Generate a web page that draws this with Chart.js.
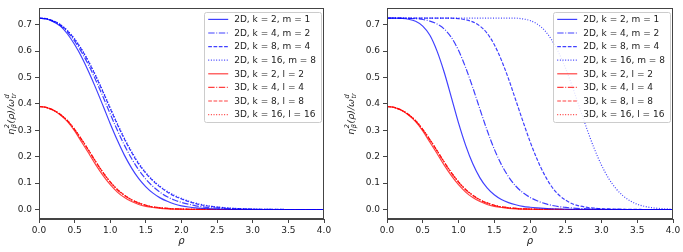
<!DOCTYPE html>
<html>
<head>
<meta charset="utf-8">
<script src="https://cdn.jsdelivr.net/npm/chart.js@4.4.0/dist/chart.umd.min.js"></script>
<style>
  body { margin: 0; background: #fff; }
  #wrap { position: relative; width: 683px; height: 252px; }
  .box { position: absolute; top: 0; height: 252px; }
</style>
</head>
<body>
<div id="wrap">
  <div class="box" style="left:0;width:340px"><canvas id="left"></canvas></div>
  <div class="box" style="left:340px;width:343px"><canvas id="right"></canvas></div>
</div>
<script>
// rho de 0 a 4, paso 0.1
const rho = [0.0,0.1,0.2,0.3,0.4,0.5,0.6,0.7,0.8,0.9,1.0,1.1,1.2,1.3,1.4,1.5,1.6,1.7,1.8,1.9,2.0,
             2.1,2.2,2.3,2.4,2.5,2.6,2.7,2.8,2.9,3.0,3.1,3.2,3.3,3.4,3.5,3.6,3.7,3.8,3.9,4.0];
const xTickVals = [0, 0.5, 1, 1.5, 2, 2.5, 3, 3.5, 4];
const yTickVals = [0, 0.1, 0.2, 0.3, 0.4, 0.5, 0.6, 0.7];

const labels = ["2D, k = 2, m = 1", "2D, k = 4, m = 2", "2D, k = 8, m = 4", "2D, k = 16, m = 8",
                "3D, k = 2, l = 2", "3D, k = 4, l = 4", "3D, k = 8, l = 8", "3D, k = 16, l = 16"];

// panel izquierdo, 2D
const left2D_k2 = [0.725,0.722,0.712,0.695,0.665,0.625,0.577,0.520,0.458,0.392,0.325,0.262,0.205,0.157,0.117,0.086,0.062,0.044,0.031,0.021,0.014,
                   0.0095,0.0063,0.0042,0.0027,0.0017,0.0011,0.0007,0.0004,0.0002,0.0001,0,0,0,0,0,0,0,0,0,0];
const left2D_k4 = [0.725,0.722,0.713,0.697,0.672,0.638,0.595,0.545,0.488,0.426,0.362,0.300,0.243,0.193,0.150,0.115,0.087,0.065,0.048,0.036,0.027,
                   0.020,0.014,0.010,0.007,0.005,0.0034,0.0023,0.0015,0.001,0.0006,0.0004,0.0002,0,0,0,0,0,0,0,0];
const left2D_k8 = [0.725,0.723,0.715,0.700,0.677,0.645,0.605,0.557,0.503,0.444,0.382,0.322,0.266,0.216,0.172,0.137,0.108,0.085,0.066,0.051,0.040,
                   0.030,0.022,0.016,0.012,0.009,0.0065,0.0045,0.003,0.002,0.0013,0.0008,0.0005,0.0003,0.0002,0,0,0,0,0,0];
const left2D_k16 = [0.725,0.723,0.715,0.701,0.678,0.647,0.607,0.560,0.506,0.447,0.386,0.326,0.270,0.220,0.176,0.140,0.111,0.088,0.069,0.054,0.042,
                    0.032,0.024,0.018,0.013,0.0095,0.007,0.005,0.0035,0.0024,0.0016,0.001,0.0006,0.0004,0.0002,0,0,0,0,0,0];

// panel derecho, 2D
const right2D_k2 = [0.725,0.725,0.724,0.721,0.713,0.695,0.660,0.600,0.520,0.425,0.328,0.243,0.173,0.120,0.082,0.056,0.038,0.026,0.018,0.012,0.0085,
                    0.006,0.004,0.0027,0.0018,0.0012,0.0008,0.0005,0.0003,0.0002,0,0,0,0,0,0,0,0,0,0,0];
const right2D_k4 = [0.725,0.725,0.725,0.724,0.723,0.720,0.714,0.703,0.684,0.652,0.603,0.538,0.462,0.380,0.300,0.229,0.170,0.124,0.089,0.064,0.046,
                    0.033,0.023,0.016,0.011,0.008,0.0055,0.0038,0.0026,0.0017,0.0011,0.0007,0.0004,0.0002,0,0,0,0,0,0,0];
const right2D_k8 = [0.725,0.725,0.725,0.725,0.725,0.725,0.725,0.725,0.725,0.725,0.723,0.719,0.711,0.695,0.668,0.625,0.566,0.495,0.415,0.335,0.258,
                    0.190,0.133,0.088,0.056,0.035,0.021,0.013,0.008,0.005,0.003,0.002,0.0012,0.0007,0.0004,0.0002,0,0,0,0,0];
const right2D_k16 = [0.725,0.725,0.725,0.725,0.725,0.725,0.725,0.725,0.725,0.725,0.725,0.725,0.725,0.725,0.725,0.725,0.725,0.725,0.725,0.722,0.716,
                     0.703,0.680,0.644,0.595,0.533,0.460,0.380,0.302,0.230,0.168,0.118,0.080,0.052,0.033,0.020,0.012,0.007,0.004,0.0025,0.0015];

// 3D (casi iguales en los dos paneles)
const d3_k2 = [0.390,0.387,0.376,0.358,0.333,0.298,0.255,0.212,0.168,0.128,0.094,0.066,0.045,0.030,0.019,0.012,0.0075,0.0045,0.0027,0.0016,0.001,
               0.0006,0.0003,0.0002,0,0,0,0,0,0,0,0,0,0,0,0,0,0,0,0,0];
const d3_k4 = [0.390,0.387,0.377,0.360,0.336,0.303,0.264,0.222,0.179,0.139,0.104,0.075,0.053,0.036,0.024,0.016,0.010,0.0065,0.004,0.0025,0.0015,
               0.0009,0.0005,0.0003,0.0002,0,0,0,0,0,0,0,0,0,0,0,0,0,0,0,0];
const d3_k8 = [0.390,0.387,0.377,0.360,0.337,0.304,0.265,0.223,0.180,0.140,0.105,0.076,0.054,0.037,0.025,0.016,0.010,0.0066,0.0041,0.0025,0.0015,
               0.0009,0.0005,0.0003,0.0002,0,0,0,0,0,0,0,0,0,0,0,0,0,0,0,0];
const d3_k16 = [0.390,0.387,0.377,0.360,0.337,0.304,0.265,0.223,0.180,0.140,0.105,0.076,0.054,0.037,0.025,0.016,0.010,0.0066,0.0041,0.0025,0.0015,
                0.0009,0.0005,0.0003,0.0002,0,0,0,0,0,0,0,0,0,0,0,0,0,0,0,0];

const blue = "rgba(0, 0, 255, 0.75)";
const red = "rgba(255, 0, 0, 0.75)";
const dashes = [[], [6.4, 1.6, 1, 1.6], [3.7, 1.6], [1, 1.65]];

Chart.defaults.font.family = "'DejaVu Sans', sans-serif";
Chart.defaults.font.size = 9;
Chart.defaults.color = "#222";

// caja alrededor del area del grafico
const framePlugin = {
    id: "frame",
    afterDatasetsDraw(chart) {
        const a = chart.chartArea;
        const ctx = chart.ctx;
        ctx.save();
        ctx.strokeStyle = "#444";
        ctx.lineWidth = 1;
        ctx.strokeRect(Math.round(a.left) + 0.5, Math.round(a.top) + 0.5,
                       Math.round(a.right - a.left) - 1, Math.round(a.bottom - a.top) - 1);
        ctx.restore();
    }
};

// leyenda dentro del grafico (arriba a la derecha)
const legendPlugin = {
    id: "innerLegend",
    afterDraw(chart) {
        const ctx = chart.ctx;
        const a = chart.chartArea;
        ctx.save();
        ctx.font = "9px 'DejaVu Sans'";
        let maxW = 0;
        chart.data.datasets.forEach(ds => { maxW = Math.max(maxW, ctx.measureText(ds.label).width); });
        const w = 4 + 20 + 6 + maxW + 5;
        const rowH = 13.6;
        const h = 7 + 7 * rowH + 8;
        const x0 = a.right - 3 - w;
        const y0 = a.top + 4;
        ctx.fillStyle = "rgba(255,255,255,0.85)";
        ctx.strokeStyle = "#ccc";
        ctx.lineWidth = 1;
        ctx.beginPath();
        ctx.roundRect(Math.round(x0) + 0.5, Math.round(y0) + 0.5, Math.round(w), Math.round(h), 2);
        ctx.fill();
        ctx.stroke();
        chart.data.datasets.forEach((ds, i) => {
            const y = y0 + 7 + i * rowH;
            ctx.strokeStyle = ds.borderColor;
            ctx.lineWidth = ds.borderWidth;
            ctx.setLineDash(ds.borderDash);
            ctx.beginPath();
            ctx.moveTo(x0 + 4, y);
            ctx.lineTo(x0 + 24, y);
            ctx.stroke();
            ctx.setLineDash([]);
            ctx.fillStyle = "#222";
            ctx.textBaseline = "middle";
            ctx.fillText(ds.label, x0 + 30, y + 0.5);
        });
        ctx.restore();
    }
};

// titulo del eje y con sub/superindices
const yTitlePlugin = {
    id: "yTitle",
    afterDraw(chart) {
        const ctx = chart.ctx;
        const a = chart.chartArea;
        const big = "italic 9.5px 'DejaVu Sans'";
        const small = "italic 6.5px 'DejaVu Sans'";
        const parts = [
            { t: "η", f: big, dy: 0 },
            { sup: "2", sub: "β" },
            { t: "(ρ)/ω", f: big, dy: 0 },
            { sup: "d", sub: "tr" }
        ];
        ctx.save();
        let total = 0;
        const widths = parts.map(p => {
            let w;
            if (p.t) { ctx.font = p.f; w = ctx.measureText(p.t).width; }
            else { ctx.font = small; w = Math.max(ctx.measureText(p.sup).width, ctx.measureText(p.sub).width) + 1; }
            total += w;
            return w;
        });
        ctx.translate(10, (a.top + a.bottom) / 2);
        ctx.rotate(-Math.PI / 2);
        ctx.fillStyle = "#222";
        ctx.textBaseline = "alphabetic";
        let x = -total / 2;
        parts.forEach((p, i) => {
            if (p.t) {
                ctx.font = p.f;
                ctx.fillText(p.t, x, 3.5);
            } else {
                ctx.font = small;
                ctx.fillText(p.sup, x + 0.5, -1.5);
                ctx.fillText(p.sub, x + 0.5, 6);
            }
            x += widths[i];
        });
        ctx.restore();
    }
};

function makeChart(id, series2D, yWidth, padRight) {
    const all = series2D.concat([d3_k2, d3_k4, d3_k8, d3_k16]);
    const datasets = all.map((arr, i) => ({
        label: labels[i],
        data: arr.map((v, j) => ({ x: rho[j], y: v })),
        borderColor: i < 4 ? blue : red,
        borderWidth: 1.2,
        borderDash: dashes[i % 4],
        pointRadius: 0,
        fill: false,
        cubicInterpolationMode: "monotone"
    }));

    const config = {
        type: "line",
        data: { datasets: datasets },
        options: {
            responsive: true,
            maintainAspectRatio: false,
            animation: false,
            layout: { padding: { top: 6, right: padRight, left: 0, bottom: 0 } },
            plugins: { legend: { display: false }, tooltip: { enabled: false } },
            scales: {
                x: {
                    type: "linear",
                    min: 0,
                    max: 4,
                    afterBuildTicks: s => { s.ticks = xTickVals.map(v => ({ value: v })); },
                    ticks: { callback: v => v.toFixed(1), padding: 2, maxRotation: 0, autoSkip: false, color: "#222" },
                    grid: { drawOnChartArea: false, tickLength: 4, color: "#444" },
                    border: { color: "#444" },
                    title: { display: true, text: "ρ", font: { size: 10, style: "italic" }, color: "#222", padding: { top: 0, bottom: 5 } },
                    afterFit: s => { s.height = 33; }
                },
                y: {
                    min: -0.036,
                    max: 0.762,
                    afterBuildTicks: s => { s.ticks = yTickVals.map(v => ({ value: v })); },
                    ticks: { callback: v => v.toFixed(1), padding: 3, color: "#222" },
                    grid: { drawOnChartArea: false, tickLength: 4, color: "#444" },
                    border: { color: "#444" },
                    afterFit: s => { s.width = yWidth; }
                }
            }
        },
        plugins: [framePlugin, legendPlugin, yTitlePlugin]
    };
    return new Chart(document.getElementById(id), config);
}

makeChart("left", [left2D_k2, left2D_k4, left2D_k8, left2D_k16], 39, 16);
makeChart("right", [right2D_k2, right2D_k4, right2D_k8, right2D_k16], 47, 10);
</script>
</body>
</html>
